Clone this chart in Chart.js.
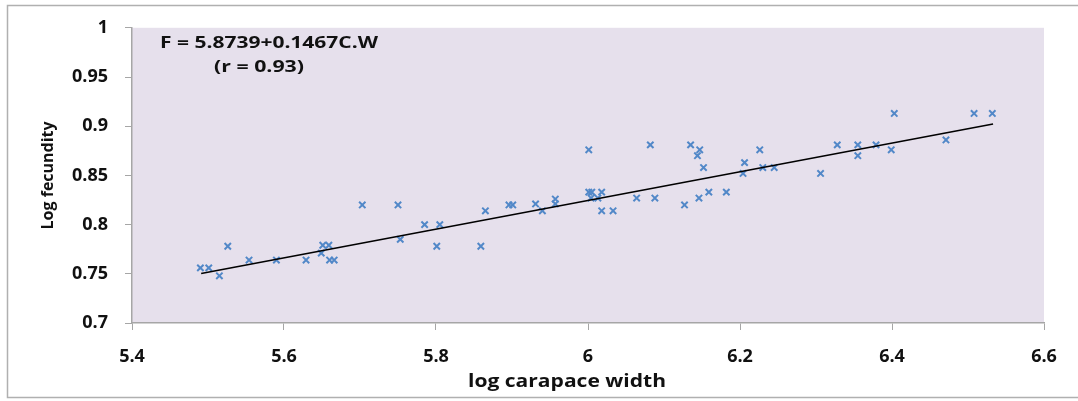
<!DOCTYPE html>
<html>
<head>
<meta charset="utf-8">
<script src="https://cdn.jsdelivr.net/npm/chart.js@4/dist/chart.umd.min.js"></script>
<style>
  html, body { margin: 0; padding: 0; background: #ffffff; }
  #wrap { width: 1078px; height: 401px; position: relative; }
</style>
</head>
<body>
<div id="wrap"><canvas id="c" width="1078" height="401"></canvas></div>
<script>
// ---- data ----
const carapaceWidth = [
  5.490, 5.501, 5.515, 5.526, 5.554, 5.590, 5.629, 5.651, 5.659, 5.649,
  5.660, 5.666, 5.703, 5.750, 5.753, 5.785, 5.805, 5.801, 5.859, 5.865,
  5.896, 5.901, 5.931, 5.940, 5.957, 5.957, 6.001, 6.001, 6.005, 6.018,
  6.004, 6.013, 6.018, 6.033, 6.064, 6.088, 6.082, 6.127, 6.146, 6.159,
  6.182, 6.135, 6.147, 6.144, 6.152, 6.206, 6.204, 6.226, 6.230, 6.245,
  6.306, 6.328, 6.355, 6.355, 6.379, 6.399, 6.403, 6.471, 6.508, 6.532
];
const fecundity = [
  0.756, 0.756, 0.748, 0.778, 0.764, 0.764, 0.764, 0.779, 0.779, 0.771,
  0.764, 0.764, 0.820, 0.820, 0.785, 0.800, 0.800, 0.778, 0.778, 0.814,
  0.820, 0.820, 0.821, 0.814, 0.826, 0.821, 0.876, 0.833, 0.833, 0.833,
  0.827, 0.827, 0.814, 0.814, 0.827, 0.827, 0.881, 0.820, 0.827, 0.833,
  0.833, 0.881, 0.876, 0.870, 0.858, 0.863, 0.852, 0.876, 0.858, 0.858,
  0.852, 0.881, 0.881, 0.870, 0.881, 0.876, 0.913, 0.886, 0.913, 0.913
];
const trendX = [5.491, 6.533];
const trendY = [0.7503, 0.9022];
const xTicks = [5.4, 5.6, 5.8, 6.0, 6.2, 6.4, 6.6];
const yTicks = [0.7, 0.75, 0.8, 0.85, 0.9, 0.95, 1.0];
const equationLines = ["F = 5.8739+0.1467C.W", "(r = 0.93)"];
const xTitle = "log carapace width";
const yTitle = "Log fecundity";

const points = carapaceWidth.map((x, i) => ({ x: x, y: fecundity[i] }));
const trend = trendX.map((x, i) => ({ x: x, y: trendY[i] }));

const FONT = "'Open Sans', 'Liberation Sans', sans-serif";

function stretchedText(ctx, text, cx, cy, font, targetWidth) {
  ctx.save();
  ctx.font = font;
  const w = ctx.measureText(text).width;
  const k = targetWidth / w;
  ctx.translate(cx, cy);
  ctx.scale(k, 1);
  ctx.textAlign = 'center';
  ctx.textBaseline = 'middle';
  ctx.fillText(text, 0, 0);
  ctx.restore();
}

const bgPlugin = {
  id: 'bg',
  beforeDraw(chart) {
    const ctx = chart.ctx, a = chart.chartArea;
    ctx.save();
    ctx.fillStyle = '#ffffff';
    ctx.fillRect(0, 0, chart.width, chart.height);
    ctx.strokeStyle = '#b0b0b0';
    ctx.lineWidth = 1.5;
    ctx.beginPath();
    ctx.moveTo(1078, 5.5); ctx.lineTo(7.5, 5.5); ctx.lineTo(7.5, 397.5); ctx.lineTo(1078, 397.5);
    ctx.stroke();
    ctx.fillStyle = '#e6e0ec';
    ctx.fillRect(a.left, a.top, a.right - a.left, a.bottom - a.top);
    ctx.restore();
  },
  afterDraw(chart) {
    const ctx = chart.ctx;
    ctx.save();
    ctx.fillStyle = '#111111';
    stretchedText(ctx, equationLines[0], 269, 43, "bold 16px " + FONT, 218);
    stretchedText(ctx, equationLines[1], 259, 67, "bold 16px " + FONT, 90);
    stretchedText(ctx, xTitle, 567, 382, "bold 17px " + FONT, 198);
    ctx.restore();
  }
};

new Chart(document.getElementById('c'), {
  type: 'scatter',
  data: {
    datasets: [
      {
        label: 'data',
        data: points,
        pointStyle: 'crossRot',
        pointRadius: 4.5,
        pointBorderWidth: 2,
        borderColor: '#5288c8',
        backgroundColor: '#5288c8',
        order: 2
      },
      {
        label: 'trend',
        type: 'line',
        data: trend,
        borderColor: '#000000',
        borderWidth: 1.5,
        pointRadius: 0,
        fill: false,
        order: 1
      }
    ]
  },
  options: {
    responsive: false,
    animation: false,
    events: [],
    layout: { padding: { left: 39, right: 34, top: 25, bottom: 0 } },
    plugins: {
      legend: { display: false },
      tooltip: { enabled: false }
    },
    scales: {
      x: {
        type: 'linear',
        min: 5.4, max: 6.6,
        afterBuildTicks(s) { s.ticks = xTicks.map(v => ({ value: v })); },
        afterFit(s) { s.height = 78; },
        grid: { drawOnChartArea: false, drawTicks: true, tickLength: 7, color: '#a6a6a6', tickColor: '#a6a6a6' },
        border: { display: true, color: '#a6a6a6', width: 1.5 },
        ticks: {
          padding: 16,
          color: '#111111',
          font: { family: FONT, size: 18, weight: 'bold' },
          callback: v => String(Math.round(v * 10) / 10)
        },
        title: { display: false }
      },
      y: {
        type: 'linear',
        min: 0.7, max: 1.0,
        afterBuildTicks(s) { s.ticks = yTicks.map(v => ({ value: v })); },
        afterFit(s) { s.width = 93; },
        grid: { drawOnChartArea: false, drawTicks: true, tickLength: 7, color: '#a6a6a6', tickColor: '#a6a6a6' },
        border: { display: true, color: '#a6a6a6', width: 1.5 },
        ticks: {
          padding: 17,
          color: '#111111',
          font: { family: FONT, size: 18, weight: 'bold' },
          callback: v => String(Math.round(v * 100) / 100)
        },
        title: {
          display: true,
          text: yTitle,
          color: '#111111',
          font: { family: FONT, size: 16, weight: 'bold' },
          padding: { top: 0, bottom: 0 }
        }
      }
    }
  },
  plugins: [bgPlugin]
});
</script>
</body>
</html>
